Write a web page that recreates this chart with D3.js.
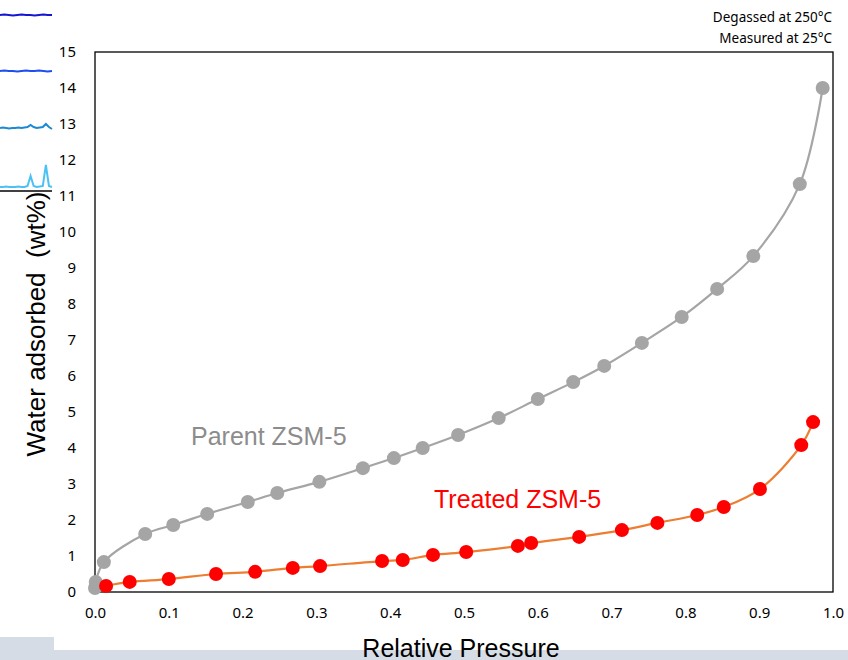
<!DOCTYPE html>
<html lang="en">
<head>
<meta charset="utf-8">
<title>Water adsorption isotherms</title>
<script src="https://d3js.org/d3.v7.min.js"></script>
<style>
  body { margin: 0; background: #fff; }
  .tick text { font-family: "Noto Sans", "Open Sans", sans-serif; font-size: 15px; fill: #000; }
  .axis path, .axis line { display: none; }
</style>
</head>
<body>
<div id="chart"></div>
<script>
// relative pressure / wt%
var parentP = [0.000, 0.001, 0.012, 0.068, 0.106, 0.152, 0.207, 0.247, 0.304, 0.363, 0.405, 0.444,
               0.492, 0.547, 0.600, 0.648, 0.690, 0.741, 0.795, 0.843, 0.892, 0.955, 0.986]
var parentW = [0.11, 0.28, 0.83, 1.61, 1.86, 2.17, 2.50, 2.75, 3.06, 3.44, 3.72, 4.00,
               4.36, 4.83, 5.36, 5.83, 6.28, 6.92, 7.64, 8.42, 9.33, 11.33, 14.0]
var treatedP = [0.015, 0.047, 0.100, 0.164, 0.217, 0.268, 0.305, 0.389, 0.417, 0.458, 0.503,
                0.573, 0.591, 0.656, 0.714, 0.762, 0.816, 0.852, 0.901, 0.957, 0.973]
var treatedW = [0.17, 0.28, 0.36, 0.50, 0.56, 0.67, 0.72, 0.86, 0.89, 1.03, 1.11,
                1.28, 1.36, 1.53, 1.72, 1.92, 2.14, 2.36, 2.86, 4.08, 4.72]
var xTicks = [0, 0.1, 0.2, 0.3, 0.4, 0.5, 0.6, 0.7, 0.8, 0.9, 1.0]
var yTicks = d3.range(0, 16)

// bits of the neighbouring XRD figure cut off at the left edge (pixel offsets)
var insetTraces = [
  {color: "#1616d0", base: 15, v: [0,0.5,0,-0.5,0,0.5,0,0,-0.5,0,0.5,0,0]},
  {color: "#1c4ef0", base: 71, v: [0,0.5,0,0,-0.5,0,0.5,0,0,0.5,0,-0.5,0]},
  {color: "#1b8ad2", base: 128, v: [0,0.5,0,-0.5,0,0,0.5,0,0.5,1,3,1,0,0.5,1,4,1,-1]},
  {color: "#4cc2f4", base: 187, v: [0,0,0.5,0,0,0,0.5,0,0,1,11,1,0,0.5,1,22,1,0]}
]

var w = 848, h = 660
var mLeft = 95, mRight = 833, mTop = 52, mBottom = 592

var svg = d3.select("#chart").append("svg")
  .attr("width", w).attr("height", h)
  .style("font-family", "'Liberation Sans', Arial, sans-serif")

// bottom band of the slide
svg.append("rect").attr("x", 0).attr("y", 637).attr("width", 54).attr("height", 23).attr("fill", "#d6dce5")
svg.append("rect").attr("x", 54).attr("y", 650).attr("width", w - 54).attr("height", 10).attr("fill", "#d6dce5")

// inset leftovers
insetTraces.forEach(function(t) {
  var ix = d3.scaleLinear().domain([0, t.v.length - 1]).range([0, 52])
  svg.append("path")
    .attr("d", d3.line().x(function(d, i) { return ix(i) }).y(function(d) { return t.base - d })(t.v))
    .attr("fill", "none").attr("stroke", t.color).attr("stroke-width", 2)
})
svg.append("line").attr("x1", 0).attr("x2", 52).attr("y1", 191).attr("y2", 191)
  .attr("stroke", "#404040").attr("stroke-width", 2)

var xScale = d3.scaleLinear().domain([0, 1]).range([mLeft, mRight])
var yScale = d3.scaleLinear().domain([0, 15]).range([mBottom, mTop])

svg.append("rect").attr("x", mLeft).attr("y", mTop)
  .attr("width", mRight - mLeft).attr("height", mBottom - mTop)
  .attr("fill", "none").attr("stroke", "#000").attr("stroke-width", 1.3)

svg.append("g").attr("class", "axis")
  .attr("transform", "translate(0," + (mBottom + 11) + ")")
  .call(d3.axisBottom(xScale).tickValues(xTicks).tickFormat(d3.format(".1f")).tickSize(0).tickPadding(4))

svg.append("g").attr("class", "axis")
  .attr("transform", "translate(" + (mLeft - 19) + ",0)")
  .call(d3.axisLeft(yScale).tickValues(yTicks).tickFormat(d3.format("d")).tickSize(0).tickPadding(0))

function drawSeries(px, wy, lineColor, dotColor) {
  var pts = px.map(function(p, i) { return [p, wy[i]] })
  svg.append("path")
    .attr("d", d3.line().x(function(d) { return xScale(d[0]) }).y(function(d) { return yScale(d[1]) })
      .curve(d3.curveCatmullRom.alpha(0.5))(pts))
    .attr("fill", "none").attr("stroke", lineColor).attr("stroke-width", 2.2)
  svg.append("g").selectAll("circle").data(pts).enter().append("circle")
    .attr("cx", function(d) { return xScale(d[0]) })
    .attr("cy", function(d) { return yScale(d[1]) })
    .attr("r", 7)
    .attr("fill", dotColor)
}
drawSeries(parentP, parentW, "#a5a5a5", "#a5a5a5")
drawSeries(treatedP, treatedW, "#ed7d31", "#ff0000")

svg.append("text").attr("x", 191).attr("y", 445)
  .attr("font-size", 25).attr("fill", "#8c8c8c").text("Parent ZSM-5")
svg.append("text").attr("x", 434).attr("y", 508)
  .attr("font-size", 25).attr("fill", "#ff0000").text("Treated ZSM-5")

svg.append("text").attr("transform", "translate(45,324) rotate(-90)")
  .attr("text-anchor", "middle").attr("font-size", 26).attr("fill", "#000")
  .style("white-space", "pre").text("Water adsorbed  (wt%)")

svg.append("text").attr("x", 461).attr("y", 657)
  .attr("text-anchor", "middle").attr("font-size", 25).attr("fill", "#000")
  .text("Relative Pressure")

var note = svg.append("text").attr("text-anchor", "end")
  .attr("font-family", "'Noto Sans', 'Open Sans', sans-serif").attr("font-size", 13.5).attr("fill", "#000")
note.append("tspan").attr("x", 832).attr("y", 22).text("Degassed at 250°C")
note.append("tspan").attr("x", 832).attr("y", 43).text("Measured at 25°C")
</script>
</body>
</html>
